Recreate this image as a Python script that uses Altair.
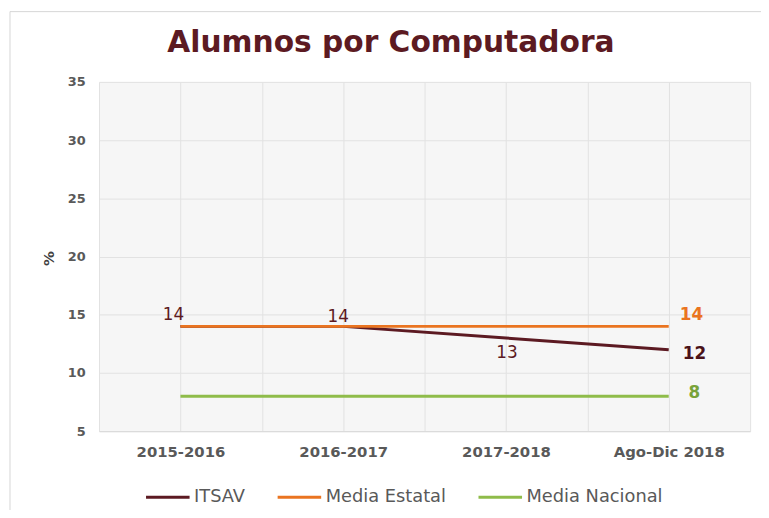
import json
import altair as alt
import pandas as pd

periods = ["2015-2016", "2016-2017", "2017-2018", "Ago-Dic 2018"]
series_names = ["ITSAV", "Media Estatal", "Media Nacional"]
itsav = [14, 14, 13, 12]
media_estatal = [14, 14, 14, 14]
media_nacional = [8, 8, 8, 8]
colors = ["#5c1a22", "#ea7420", "#8fbc4a"]

rows = []
for name, vals in zip(series_names, [itsav, media_estatal, media_nacional]):
    for i, (p, v) in enumerate(zip(periods, vals)):
        rows.append({"serie": name, "periodo": p, "idx": i, "valor": v})
df = pd.DataFrame(rows)

FONT = "DejaVu Sans"
label_expr = "datum.value % 1 == 0 ? " + json.dumps(periods) + "[datum.value] : ''"

x = alt.X("idx:Q",
          scale=alt.Scale(domain=[-0.5, 3.5], nice=False, zero=False),
          axis=alt.Axis(values=[-0.5, 0, 0.5, 1, 1.5, 2, 2.5, 3, 3.5],
                        labelExpr=label_expr, title=None, ticks=False,
                        domain=True, domainColor="#d9d9d9",
                        gridColor="#e2e2e2", labelFont=FONT, labelFontSize=15,
                        labelColor="#595959", labelFontWeight="bold",
                        labelPadding=14, labelFlush=False, labelOverlap=False))
y = alt.Y("valor:Q",
          scale=alt.Scale(domain=[5, 35], nice=False, zero=False),
          axis=alt.Axis(values=[5, 10, 15, 20, 25, 30, 35], title="%",
                        titleAngle=-90, titleX=-43, titleY=178,
                        titleFont=FONT, titleFontSize=15, titleColor="#404040",
                        titleFontWeight="bold", ticks=False, domain=False,
                        gridColor="#e2e2e2", labelFont=FONT, labelFontSize=13,
                        labelColor="#595959", labelFontWeight="bold",
                        labelPadding=14))

color = alt.Color("serie:N",
                  scale=alt.Scale(domain=series_names, range=colors),
                  legend=alt.Legend(orient="none", direction="horizontal",
                                    legendX=46, legendY=396, title=None,
                                    symbolType="stroke", symbolSize=1936,
                                    symbolStrokeWidth=3, labelFont=FONT,
                                    labelFontSize=18, labelColor="#595959",
                                    columnPadding=26, labelOffset=3))

base = alt.Chart(df)

border = alt.Chart(pd.DataFrame({"a": [0]})).mark_rect(
    fill=None, stroke="#d6d6d6", strokeWidth=1
).encode(x=alt.value(-90), x2=alt.value(700), y=alt.value(-71), y2=alt.value(460))

lines = base.mark_line(strokeWidth=3).encode(x=x, y=y, color=color,
                                             order=alt.Order("idx:Q"))

t_font = dict(font=FONT, fontSize=17)
lab1 = base.transform_filter("datum.serie == 'ITSAV' && datum.idx == 0").mark_text(
    dx=-7, dy=-11, color="#5c1a22", **t_font).encode(x="idx:Q", y="valor:Q", text="valor:Q")
lab2 = base.transform_filter("datum.serie == 'ITSAV' && datum.idx == 1").mark_text(
    dx=-5, dy=-9, color="#5c1a22", **t_font).encode(x="idx:Q", y="valor:Q", text="valor:Q")
lab3 = base.transform_filter("datum.serie == 'ITSAV' && datum.idx == 2").mark_text(
    dx=1, dy=15, color="#5c1a22", **t_font).encode(x="idx:Q", y="valor:Q", text="valor:Q")
end1 = base.transform_filter("datum.serie == 'ITSAV' && datum.idx == 3").mark_text(
    dx=26, dy=4, color="#4a1218", fontWeight="bold", **t_font).encode(x="idx:Q", y="valor:Q", text="valor:Q")
end2 = base.transform_filter("datum.serie == 'Media Estatal' && datum.idx == 3").mark_text(
    dx=23, dy=-11, color="#ea7420", fontWeight="bold", **t_font).encode(x="idx:Q", y="valor:Q", text="valor:Q")
end3 = base.transform_filter("datum.serie == 'Media Nacional' && datum.idx == 3").mark_text(
    dx=26, dy=-3, color="#78a33a", fontWeight="bold", **t_font).encode(x="idx:Q", y="valor:Q", text="valor:Q")

chart = alt.layer(border, lines, lab1, lab2, lab3, end1, end2, end3).properties(
    width=658, height=353,
    autosize=alt.AutoSizeParams(type="none"),
    padding={"left": 92, "top": 72, "right": 11, "bottom": 77},
    title=alt.Title("Alumnos por Computadora", font=FONT, fontSize=30,
                    fontWeight="bold", color="#5c1a22", anchor="middle",
                    dx=-34, offset=-47),
    background="white",
).configure_view(fill="#f6f6f6", stroke=None)

chart.save("out.html", embed_options={"renderer": "svg", "actions": False})
